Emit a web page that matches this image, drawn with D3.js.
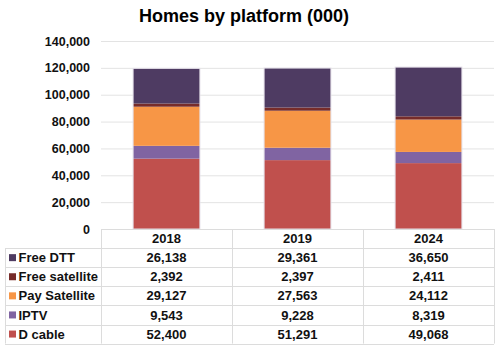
<!DOCTYPE html>
<html>
  <head>
    <script src="https://d3js.org/d3.v7.min.js"></script>
    <style>
      body { margin: 0; background: #fff; }
      text { font-family: "Liberation Sans", Arial, sans-serif; }
    </style>
  </head>
  <body>
    <div id="chart"></div>
    <script>
      // data
      var years = ["2018", "2019", "2024"];
      var platforms = ["D cable", "IPTV", "Pay Satellite", "Free satellite", "Free DTT"];
      var dCable = [52400, 51291, 49068];
      var iptv = [9543, 9228, 8319];
      var paySat = [29127, 27563, 24112];
      var freeSat = [2392, 2397, 2411];
      var freeDtt = [26138, 29361, 36650];
      var yTicks = [0, 20000, 40000, 60000, 80000, 100000, 120000, 140000];
      var colors = ["#c0504d", "#8064a2", "#f79646", "#772c2a", "#4e3b62"];

      var series = [dCable, iptv, paySat, freeSat, freeDtt];
      var rows = years.map(function(y, i) {
        var r = { year: y };
        platforms.forEach(function(p, j) { r[p] = series[j][i]; });
        return r;
      });

      var width = 500, height = 350;
      var plot = { left: 101, right: 494, top: 41, bottom: 229 };
      var rowH = 19.1;

      var svg = d3.select("#chart").append("svg")
        .attr("width", width)
        .attr("height", height);

      var x = d3.scaleBand()
        .domain(years)
        .range([plot.left, plot.right])
        .paddingInner(0.49)
        .paddingOuter(0.245);

      var col = d3.scaleBand()
        .domain(years)
        .range([plot.left, plot.right]);

      var y = d3.scaleLinear()
        .domain([0, 140000])
        .range([plot.bottom, plot.top]);

      // title
      svg.append("text")
        .text("Homes by platform (000)")
        .attr("x", 244)
        .attr("y", 22)
        .attr("text-anchor", "middle")
        .attr("font-size", "18px")
        .attr("font-weight", "bold")
        .style("fill", "#000");

      // gridlines
      svg.append("g").selectAll("line")
        .data(yTicks.slice(1))
        .enter()
        .append("line")
        .attr("x1", plot.left)
        .attr("x2", plot.right)
        .attr("y1", function(d) { return y(d) + 0.5; })
        .attr("y2", function(d) { return y(d) + 0.5; })
        .attr("stroke", "#e3e3e3")
        .attr("stroke-width", 1);

      // y axis labels
      var yAxis = svg.append("g")
        .attr("transform", "translate(" + plot.left + ",0)")
        .call(d3.axisLeft(y).tickValues(yTicks).tickFormat(d3.format(",")).tickSize(0).tickPadding(11));
      yAxis.select(".domain").remove();
      yAxis.selectAll("text")
        .attr("font-size", "12.5px")
        .attr("font-weight", "bold")
        .style("font-family", "'Liberation Sans', Arial, sans-serif")
        .style("fill", "#111");

      // stacked bars
      var stack = d3.stack().keys(platforms)(rows);
      svg.append("g").selectAll("g")
        .data(stack)
        .enter()
        .append("g")
        .attr("fill", function(d, i) { return colors[i]; })
        .selectAll("rect")
        .data(function(d) { return d; })
        .enter()
        .append("rect")
        .attr("x", function(d) { return x(d.data.year); })
        .attr("y", function(d) { return y(d[1]); })
        .attr("width", x.bandwidth())
        .attr("height", function(d) { return y(d[0]) - y(d[1]); });

      // light outline round each bar
      svg.append("g").selectAll("rect")
        .data(rows)
        .enter()
        .append("rect")
        .attr("x", function(d) { return x(d.year); })
        .attr("y", function(d) { return y(d3.sum(platforms, function(p) { return d[p]; })); })
        .attr("width", x.bandwidth())
        .attr("height", function(d) { return plot.bottom - y(d3.sum(platforms, function(p) { return d[p]; })); })
        .attr("fill", "none")
        .attr("stroke", "#e4dfe8")
        .attr("stroke-width", 1);

      // data table
      var tbl = svg.append("g");
      var tableTop = plot.bottom;
      var tableRows = platforms.slice().reverse();
      var tableLeft = 5;
      var tableBottom = tableTop + rowH * (tableRows.length + 1);
      var lineColor = "#dcdcdc";

      // horizontal lines
      tbl.append("line")
        .attr("x1", plot.left).attr("x2", plot.right)
        .attr("y1", tableTop + 0.5).attr("y2", tableTop + 0.5)
        .attr("stroke", lineColor);
      d3.range(1, tableRows.length + 2).forEach(function(i) {
        var yy = Math.round(tableTop + rowH * i) + 0.5;
        tbl.append("line")
          .attr("x1", tableLeft).attr("x2", plot.right)
          .attr("y1", yy).attr("y2", yy)
          .attr("stroke", lineColor);
      });

      // vertical lines
      var vx = years.map(function(d) { return col(d); }).concat([plot.right]);
      vx.forEach(function(xx) {
        tbl.append("line")
          .attr("x1", Math.round(xx) + 0.5).attr("x2", Math.round(xx) + 0.5)
          .attr("y1", tableTop).attr("y2", tableBottom)
          .attr("stroke", lineColor);
      });
      tbl.append("line")
        .attr("x1", tableLeft + 0.5).attr("x2", tableLeft + 0.5)
        .attr("y1", tableTop + rowH).attr("y2", tableBottom)
        .attr("stroke", lineColor);

      // header years
      tbl.selectAll("text.year")
        .data(years)
        .enter()
        .append("text")
        .attr("class", "year")
        .text(function(d) { return d; })
        .attr("x", function(d) { return col(d) + col.bandwidth() / 2; })
        .attr("y", tableTop + rowH / 2)
        .attr("dy", "0.35em")
        .attr("text-anchor", "middle")
        .attr("font-size", "13px")
        .attr("font-weight", "bold")
        .style("fill", "#111");

      // rows
      tableRows.forEach(function(p, i) {
        var cy = tableTop + rowH * (i + 1.5);
        var ci = platforms.indexOf(p);
        tbl.append("rect")
          .attr("x", 9)
          .attr("y", cy - 3.5)
          .attr("width", 7)
          .attr("height", 7)
          .attr("fill", colors[ci]);
        tbl.append("text")
          .text(p)
          .attr("x", 18.5)
          .attr("y", cy)
          .attr("dy", "0.35em")
          .attr("font-size", "13px")
          .attr("font-weight", "bold")
          .style("fill", "#111");
        tbl.selectAll("text.v" + ci)
          .data(rows)
          .enter()
          .append("text")
          .text(function(d) { return d3.format(",")(d[p]); })
          .attr("x", function(d) { return col(d.year) + col.bandwidth() / 2; })
          .attr("y", cy)
          .attr("dy", "0.35em")
          .attr("text-anchor", "middle")
          .attr("font-size", "13px")
          .attr("font-weight", "bold")
          .style("fill", "#111");
      });
    </script>
  </body>
</html>
